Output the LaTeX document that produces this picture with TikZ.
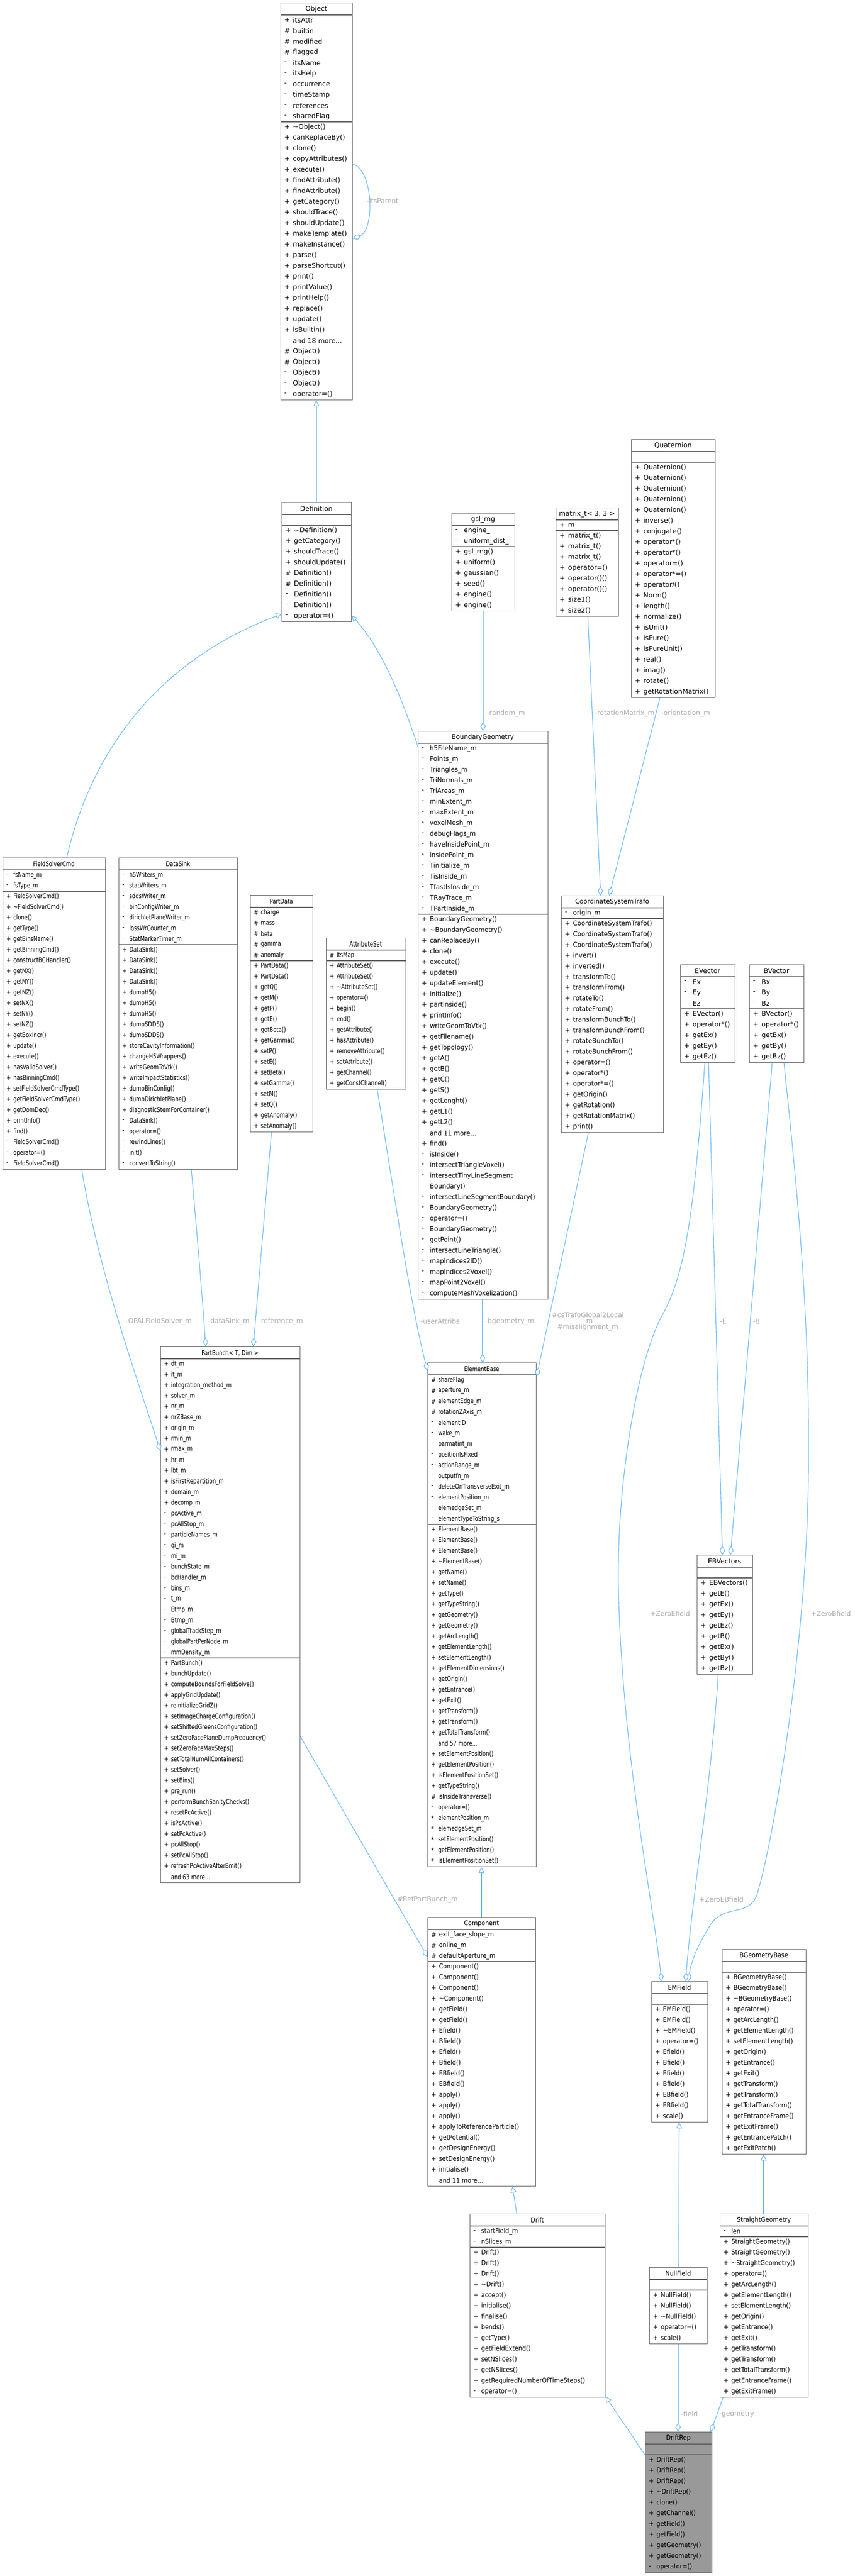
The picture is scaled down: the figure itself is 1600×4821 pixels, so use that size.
\documentclass[tikz,border=0pt]{standalone}
\usepackage{fontspec}
\usepackage{graphicx}
\setmainfont{DejaVu Sans}
\usetikzlibrary{arrows.meta,calc}
\definecolor{lb}{HTML}{63B8FF}
\definecolor{boxc}{HTML}{666666}
\definecolor{labc}{HTML}{AAAAAA}
\definecolor{drfill}{HTML}{999999}
\newcommand{\rfont}{\fontsize{12.5}{14}\selectfont}
\newcommand{\lfont}{\fontsize{12.5}{14}\selectfont}
\tikzset{
  rowt/.style={anchor=west, inner sep=0pt, font=\rfont},
  inh/.style={draw=lb, line width=1.1pt, -{Triangle[open,length=11pt,width=11pt,fill=white]}},
  agg/.style={draw=lb, line width=1.1pt, -{Diamond[open,length=17pt,width=10pt,fill=white]}},
  lab/.style={text=labc, font=\lfont, inner sep=1pt},
}
\def\F{}\def\M{}
\newcommand{\umlbox}[9]{%
  \pgfmathsetmacro\fh{max(#7,1)*20}%
  \pgfmathsetmacro\bh{23+\fh+#8*20}%
  \node[draw=boxc, fill=#9, line width=1.2pt, minimum width=#4pt, minimum height=\bh pt, inner sep=0pt, anchor=north west] (#1) at (#2,#3) {};
  \draw[boxc, line width=1.2pt] (#2,#3+23) -- ++(#4,0);
  \draw[boxc, line width=1.2pt] (#2,#3+23+\fh) -- ++(#4,0);
  \node[font=\rfont, inner sep=0pt] at (#2+#4/2,#3+12) {\scalebox{#5}[1]{#6}};
  \ifnum#7>0
  \foreach \p/\t [count=\i] in \F {
    \node[rowt] at (#2+7, #3+23+20*\i-10) {\scalebox{#5}[1]{\p}};
    \node[rowt] at (#2+7+16*#5, #3+23+20*\i-10) {\scalebox{#5}[1]{\t}};
  }
  \fi
  \foreach \p/\t [count=\i] in \M {
    \node[rowt] at (#2+7, #3+23+\fh+20*\i-10) {\scalebox{#5}[1]{\p}};
    \node[rowt] at (#2+7+16*#5, #3+23+\fh+20*\i-10) {\scalebox{#5}[1]{\t}};
  }
}
\begin{document}
\begin{tikzpicture}[x=1pt,y=-1pt]
\useasboundingbox[fill=white] (0,0) rectangle (1600,4821);

% Object
\def\F{+/itsAttr, \#/builtin, \#/modified, \#/flagged, -/itsName, -/itsHelp, -/occurrence, -/timeStamp, -/references, -/sharedFlag}
\def\M{+/\textasciitilde Object(), +/canReplaceBy(), +/clone(), +/copyAttributes(), +/execute(), +/findAttribute(), +/findAttribute(), +/getCategory(), +/shouldTrace(), +/shouldUpdate(), +/makeTemplate(), +/makeInstance(), +/parse(), +/parseShortcut(), +/print(), +/printValue(), +/printHelp(), +/replace(), +/update(), +/isBuiltin(), {}/{and 18 more...}, \#/Object(), \#/Object(), -/Object(), -/Object(), -/operator=()}
\umlbox{obj}{525}{5}{134}{1}{Object}{10}{26}{white}

% Definition
\def\M{+/\textasciitilde Definition(), +/getCategory(), +/shouldTrace(), +/shouldUpdate(), \#/Definition(), \#/Definition(), -/Definition(), -/Definition(), -/operator=()}
\umlbox{def}{527}{940}{130}{1}{Definition}{0}{9}{white}

% gsl_rng
\def\F{-/engine\_, -/uniform\_dist\_}
\def\M{+/gsl\_rng(), +/uniform(), +/gaussian(), +/seed(), +/engine(), +/engine()}
\umlbox{gsl}{845}{960}{118}{1}{gsl\_rng}{2}{6}{white}

% matrix_t
\def\F{+/m}
\def\M{+/matrix\_t(), +/matrix\_t(), +/matrix\_t(), +/operator=(), +/operator()(), +/operator()(), +/size1(), +/size2()}
\umlbox{mat}{1040}{950}{117}{1}{matrix\_t< 3, 3 >}{1}{8}{white}

% Quaternion
\def\M{+/Quaternion(), +/Quaternion(), +/Quaternion(), +/Quaternion(), +/Quaternion(), +/inverse(), +/conjugate(), +/operator*(), +/operator*(), +/operator=(), +/operator*=(), +/{operator/()}, +/Norm(), +/length(), +/normalize(), +/isUnit(), +/isPure(), +/isPureUnit(), +/real(), +/imag(), +/rotate(), +/getRotationMatrix()}
\umlbox{quat}{1181}{822}{157}{1}{Quaternion}{0}{22}{white}

% BoundaryGeometry
\def\F{-/h5FileName\_m, -/Points\_m, -/Triangles\_m, -/TriNormals\_m, -/TriAreas\_m, -/minExtent\_m, -/maxExtent\_m, -/voxelMesh\_m, -/debugFlags\_m, -/haveInsidePoint\_m, -/insidePoint\_m, -/Tinitialize\_m, -/TisInside\_m, -/TfastIsInside\_m, -/TRayTrace\_m, -/TPartInside\_m}
\def\M{+/BoundaryGeometry(), +/\textasciitilde BoundaryGeometry(), +/canReplaceBy(), +/clone(), +/execute(), +/update(), +/updateElement(), +/initialize(), +/partInside(), +/printInfo(), +/writeGeomToVtk(), +/getFilename(), +/getTopology(), +/getA(), +/getB(), +/getC(), +/getS(), +/getLenght(), +/getL1(), +/getL2(), {}/{and 11 more...}, +/find(), -/isInside(), -/intersectTriangleVoxel(), -/intersectTinyLineSegment, {}/Boundary(), -/intersectLineSegmentBoundary(), -/BoundaryGeometry(), -/operator=(), -/BoundaryGeometry(), -/getPoint(), -/intersectLineTriangle(), -/mapIndices2ID(), -/mapIndices2Voxel(), -/mapPoint2Voxel(), -/computeMeshVoxelization()}
\umlbox{bg}{782}{1368}{243}{0.95}{BoundaryGeometry}{16}{36}{white}

% CoordinateSystemTrafo
\def\F{-/origin\_m}
\def\M{+/CoordinateSystemTrafo(), +/CoordinateSystemTrafo(), +/CoordinateSystemTrafo(), +/invert(), +/inverted(), +/transformTo(), +/transformFrom(), +/rotateTo(), +/rotateFrom(), +/transformBunchTo(), +/transformBunchFrom(), +/rotateBunchTo(), +/rotateBunchFrom(), +/operator=(), +/operator*(), +/operator*=(), +/getOrigin(), +/getRotation(), +/getRotationMatrix(), +/print()}
\umlbox{cst}{1050}{1676}{191}{0.95}{CoordinateSystemTrafo}{1}{20}{white}

% EVector / BVector
\def\F{-/Ex, -/Ey, -/Ez}
\def\M{+/EVector(), +/operator*(), +/getEx(), +/getEy(), +/getEz()}
\umlbox{ev}{1273}{1805}{102}{1}{EVector}{3}{5}{white}
\def\F{-/Bx, -/By, -/Bz}
\def\M{+/BVector(), +/operator*(), +/getBx(), +/getBy(), +/getBz()}
\umlbox{bv}{1402}{1805}{102}{1}{BVector}{3}{5}{white}

% FieldSolverCmd
\def\F{-/fsName\_m, -/fsType\_m}
\def\M{+/FieldSolverCmd(), +/\textasciitilde FieldSolverCmd(), +/clone(), +/getType(), +/getBinsName(), +/getBinningCmd(), +/constructBCHandler(), +/getNX(), +/getNY(), +/getNZ(), +/setNX(), +/setNY(), +/setNZ(), +/getBoxIncr(), +/update(), +/execute(), +/hasValidSolver(), +/hasBinningCmd(), +/setFieldSolverCmdType(), +/getFieldSolverCmdType(), +/getDomDec(), +/printInfo(), +/find(), -/FieldSolverCmd(), -/operator=(), -/FieldSolverCmd()}
\umlbox{fsc}{5}{1605}{192}{0.8}{FieldSolverCmd}{2}{26}{white}

% DataSink
\def\F{-/h5Writers\_m, -/statWriters\_m, -/sddsWriter\_m, -/binConfigWriter\_m, -/dirichletPlaneWriter\_m, -/lossWrCounter\_m, -/StatMarkerTimer\_m}
\def\M{+/DataSink(), +/DataSink(), +/DataSink(), +/DataSink(), +/dumpH5(), +/dumpH5(), +/dumpH5(), +/dumpSDDS(), +/dumpSDDS(), +/storeCavityInformation(), +/changeH5Wrappers(), +/writeGeomToVtk(), +/writeImpactStatistics(), +/dumpBinConfig(), +/dumpDirichletPlane(), +/diagnosticStemForContainer(), -/DataSink(), -/operator=(), -/rewindLines(), -/init(), -/convertToString()}
\umlbox{ds}{222}{1605}{222}{0.8}{DataSink}{7}{21}{white}

% PartData
\def\F{\#/charge, \#/mass, \#/beta, \#/gamma, \#/anomaly}
\def\M{+/PartData(), +/PartData(), +/getQ(), +/getM(), +/getP(), +/getE(), +/getBeta(), +/getGamma(), +/setP(), +/setE(), +/setBeta(), +/setGamma(), +/setM(), +/setQ(), +/getAnomaly(), +/setAnomaly()}
\umlbox{pd}{468}{1675}{117}{0.8}{PartData}{5}{16}{white}

% AttributeSet
\def\F{\#/itsMap}
\def\M{+/AttributeSet(), +/AttributeSet(), +/\textasciitilde AttributeSet(), +/operator=(), +/begin(), +/end(), +/getAttribute(), +/hasAttribute(), +/removeAttribute(), +/setAttribute(), +/getChannel(), +/getConstChannel()}
\umlbox{as}{610}{1755}{149}{0.8}{AttributeSet}{1}{12}{white}

% PartBunch
\def\F{+/dt\_m, +/it\_m, +/integration\_method\_m, +/solver\_m, +/nr\_m, +/nrZBase\_m, +/origin\_m, +/rmin\_m, +/rmax\_m, +/hr\_m, +/lbt\_m, +/isFirstRepartition\_m, +/domain\_m, +/decomp\_m, -/pcActive\_m, -/pcAllStop\_m, -/particleNames\_m, -/qi\_m, -/mi\_m, -/bunchState\_m, -/bcHandler\_m, -/bins\_m, -/t\_m, -/Etmp\_m, -/Btmp\_m, -/globalTrackStep\_m, -/globalPartPerNode\_m, -/mmDensity\_m}
\def\M{+/PartBunch(), +/bunchUpdate(), +/computeBoundsForFieldSolve(), +/applyGridUpdate(), +/reinitializeGridZ(), +/setImageChargeConfiguration(), +/setShiftedGreensConfiguration(), +/setZeroFacePlaneDumpFrequency(), +/setZeroFaceMaxSteps(), +/setTotalNumAllContainers(), +/setSolver(), +/setBins(), +/pre\_run(), +/performBunchSanityChecks(), +/resetPcActive(), +/isPcActive(), +/setPcActive(), +/pcAllStop(), +/setPcAllStop(), +/refreshPcActiveAfterEmit(), {}/{and 63 more...}}
\umlbox{pb}{300}{2520}{261}{0.8}{PartBunch< T, Dim >}{28}{21}{white}

% ElementBase
\def\F{\#/shareFlag, \#/aperture\_m, \#/elementEdge\_m, \#/rotationZAxis\_m, -/elementID, -/wake\_m, -/parmatint\_m, -/positionIsFixed, -/actionRange\_m, -/outputfn\_m, -/deleteOnTransverseExit\_m, -/elementPosition\_m, -/elemedgeSet\_m, -/elementTypeToString\_s}
\def\M{+/ElementBase(), +/ElementBase(), +/ElementBase(), +/\textasciitilde ElementBase(), +/getName(), +/setName(), +/getType(), +/getTypeString(), +/getGeometry(), +/getGeometry(), +/getArcLength(), +/getElementLength(), +/setElementLength(), +/getElementDimensions(), +/getOrigin(), +/getEntrance(), +/getExit(), +/getTransform(), +/getTransform(), +/getTotalTransform(), {}/{and 57 more...}, +/setElementPosition(), +/getElementPosition(), +/isElementPositionSet(), +/getTypeString(), \#/isInsideTransverse(), -/operator=(), */elementPosition\_m, */elemedgeSet\_m, */setElementPosition(), */getElementPosition(), */isElementPositionSet()}
\umlbox{eb}{800}{2550}{203}{0.8}{ElementBase}{14}{32}{white}

% EBVectors
\def\M{+/EBVectors(), +/getE(), +/getEx(), +/getEy(), +/getEz(), +/getB(), +/getBx(), +/getBy(), +/getBz()}
\umlbox{ebv}{1304}{2910}{104}{1}{EBVectors}{0}{9}{white}

% Component
\def\F{\#/exit\_face\_slope\_m, \#/online\_m, \#/defaultAperture\_m}
\def\M{+/Component(), +/Component(), +/Component(), +/\textasciitilde Component(), +/getField(), +/getField(), +/Efield(), +/Bfield(), +/Efield(), +/Bfield(), +/EBfield(), +/EBfield(), +/apply(), +/apply(), +/apply(), +/applyToReferenceParticle(), +/getPotential(), +/getDesignEnergy(), +/setDesignEnergy(), +/initialise(), {}/{and 11 more...}}
\umlbox{comp}{800}{3588}{202}{0.9}{Component}{3}{21}{white}

% EMField
\def\M{+/EMField(), +/EMField(), +/\textasciitilde EMField(), +/operator=(), +/Efield(), +/Bfield(), +/Efield(), +/Bfield(), +/EBfield(), +/EBfield(), +/scale()}
\umlbox{emf}{1219}{3708}{105}{0.9}{EMField}{0}{11}{white}

% BGeometryBase
\def\M{+/BGeometryBase(), +/BGeometryBase(), +/\textasciitilde BGeometryBase(), +/operator=(), +/getArcLength(), +/getElementLength(), +/setElementLength(), +/getOrigin(), +/getEntrance(), +/getExit(), +/getTransform(), +/getTransform(), +/getTotalTransform(), +/getEntranceFrame(), +/getExitFrame(), +/getEntrancePatch(), +/getExitPatch()}
\umlbox{bgb}{1351}{3648}{157}{0.9}{BGeometryBase}{0}{17}{white}

% Drift
\def\F{-/startField\_m, -/nSlices\_m}
\def\M{+/Drift(), +/Drift(), +/Drift(), +/\textasciitilde Drift(), +/accept(), +/initialise(), +/finalise(), +/bends(), +/getType(), +/getFieldExtend(), +/setNSlices(), +/getNSlices(), +/getRequiredNumberOfTimeSteps(), -/operator=()}
\umlbox{drift}{879}{4143}{253}{0.9}{Drift}{2}{14}{white}

% NullField
\def\M{+/NullField(), +/NullField(), +/\textasciitilde NullField(), +/operator=(), +/scale()}
\umlbox{nf}{1215}{4243}{108}{0.9}{NullField}{0}{5}{white}

% StraightGeometry
\def\F{-/len}
\def\M{+/StraightGeometry(), +/StraightGeometry(), +/\textasciitilde StraightGeometry(), +/operator=(), +/getArcLength(), +/getElementLength(), +/setElementLength(), +/getOrigin(), +/getEntrance(), +/getExit(), +/getTransform(), +/getTransform(), +/getTotalTransform(), +/getEntranceFrame(), +/getExitFrame()}
\umlbox{sg}{1347}{4143}{165}{0.9}{StraightGeometry}{1}{15}{white}

% DriftRep
\def\M{+/DriftRep(), +/DriftRep(), +/DriftRep(), +/\textasciitilde DriftRep(), +/clone(), +/getChannel(), +/getField(), +/getField(), +/getGeometry(), +/getGeometry(), -/operator=()}
\umlbox{dr}{1207}{4551}{125}{0.9}{DriftRep}{0}{11}{drfill}

% ---------- connectors ----------
% inheritance
\draw[inh] ([xshift=65]def.north west) -- ([xshift=67]obj.south west);
\draw[inh] ([yshift=-29]bg.north west) .. controls (760,1330) and (720,1220) .. ([yshift=12]def.south east);
\draw[inh] ([xshift=120]fsc.north west) .. controls (160,1450) and (260,1250) .. ([yshift=15]def.south west);
\draw[inh] ([xshift=101]comp.north west) -- ([xshift=101]eb.south west);
\draw[inh] ([xshift=88]drift.north west) -- ([xshift=159]comp.south west);
\draw[inh] ([xshift=55]nf.north west) -- ([xshift=52]emf.south west);
\draw[inh] ([xshift=82]sg.north west) -- ([xshift=78]bgb.south west);
\draw[inh] ([yshift=-43]dr.north west) -- ([yshift=2]drift.south east);

% aggregation
\draw[agg] ([yshift=-302]obj.north east) .. controls (700,320) and (700,430) .. ([yshift=-442]obj.north east);
\node[lab] at (716,376) {-itsParent};
\draw[agg] ([xshift=59]gsl.south west) -- ([xshift=122]bg.north west);
\node[lab, anchor=west] at (910,1335) {-random\_m};
\draw[agg] ([xshift=60]mat.south west) -- ([xshift=74]cst.north west);
\node[lab, anchor=west] at (1112,1335) {-rotationMatrix\_m};
\draw[agg] ([xshift=54]quat.south west) -- ([xshift=90]cst.north west);
\node[lab, anchor=west] at (1236,1335) {-orientation\_m};
\draw[agg] ([xshift=121]bg.south west) -- ([xshift=103]eb.north west);
\node[lab, anchor=west] at (907,2473) {-bgeometry\_m};
\draw[agg] ([xshift=51]cst.south west) -- ([yshift=-26]eb.north east);
\node[lab, align=center] at (1100,2473) {\#csTrafoGlobal2Local\\[-3pt]\_m\\[-3pt]\#misalignment\_m};
\draw[agg] ([xshift=148]fsc.south west) .. controls (185,2380) and (250,2560) .. ([yshift=-195]pb.north west);
\node[lab] at (297,2473) {-OPALFieldSolver\_m};
\draw[agg] ([xshift=136]ds.south west) .. controls (368,2300) and (378,2420) .. ([xshift=85]pb.north west);
\node[lab, anchor=west] at (388,2473) {-dataSink\_m};
\draw[agg] ([xshift=40]pd.south west) -- ([xshift=174]pb.north west);
\node[lab, anchor=west] at (483,2473) {-reference\_m};
\draw[agg] ([xshift=96]as.south west) .. controls (740,2250) and (770,2450) .. ([yshift=-15]eb.north west);
\node[lab, anchor=west] at (786,2473) {-userAttribs};
\draw[agg] ([xshift=53]ev.south west) -- ([xshift=48]ebv.north west);
\node[lab, anchor=west] at (1346,2473) {-E};
\draw[agg] ([xshift=43]bv.south west) -- ([xshift=63]ebv.north west);
\node[lab, anchor=west] at (1408,2473) {-B};
\draw[agg] ([xshift=46]ev.south west) .. controls (1300,2250) and (1285,2380) .. (1240,2460) .. controls (1190,2550) and (1150,2800) .. (1158,3000) .. controls (1168,3300) and (1222,3560) .. ([xshift=19]emf.north west);
\node[lab] at (1254,3020) {+ZeroEfield};
\draw[agg] ([xshift=65]bv.south west) .. controls (1500,2300) and (1515,2500) .. (1513,2750) .. controls (1510,3100) and (1440,3480) .. (1415,3550) .. controls (1395,3590) and (1350,3560) .. (1325,3610) .. controls (1300,3650) and (1292,3680) .. ([xshift=69]emf.north west);
\node[lab] at (1555,3020) {+ZeroBfield};
\draw[agg] ([xshift=40]ebv.south west) .. controls (1330,3350) and (1295,3550) .. ([xshift=64]emf.north west);
\node[lab] at (1350,3555) {+ZeroEBfield};
\draw[agg] ([yshift=-730]pb.north east) -- ([yshift=-74]comp.north west);
\node[lab] at (800,3555) {\#RefPartBunch\_m};
\draw[agg] ([xshift=54]nf.south west) -- ([xshift=62]dr.north west);
\node[lab, anchor=west] at (1273,4518) {-field};
\draw[agg] ([xshift=6]sg.south west) -- ([xshift=123]dr.north west);
\node[lab, anchor=west] at (1345,4518) {-geometry};
\end{tikzpicture}
\end{document}
